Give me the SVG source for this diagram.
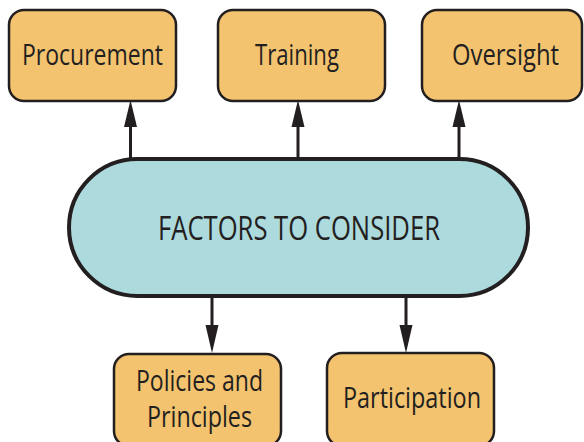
<svg xmlns="http://www.w3.org/2000/svg" width="584" height="442" viewBox="0 0 584 442">
  <defs>
    <style>
      .box { fill: #F3C36F; stroke: #231F20; stroke-width: 2.5; }
      .hub { fill: #ADDADD; stroke: #231F20; stroke-width: 4; }
      .label { font-family: "Open Sans", "Liberation Sans", sans-serif; fill: #231F20; text-anchor: middle; }
      .edge { stroke: #231F20; stroke-width: 3; fill: none; }
      .head { fill: #231F20; }
    </style>
  </defs>
  <rect width="584" height="442" fill="#FFFFFF"/>

  <!-- connectors -->
  <g id="connectors">
    <line class="edge" x1="130.5" y1="159" x2="130.5" y2="124"/>
    <polygon class="head" points="130.5,100 124,127 137,127"/>
    <line class="edge" x1="298" y1="159" x2="298" y2="124"/>
    <polygon class="head" points="298,100 291.5,127 304.5,127"/>
    <line class="edge" x1="459" y1="159" x2="459" y2="124"/>
    <polygon class="head" points="459,100 452.5,127 465.5,127"/>
    <line class="edge" x1="212" y1="296" x2="212" y2="328"/>
    <polygon class="head" points="212,353 205.5,325 218.5,325"/>
    <line class="edge" x1="406" y1="296" x2="406" y2="328"/>
    <polygon class="head" points="406,353 399.5,325 412.5,325"/>
  </g>

  <!-- central hub -->
  <g id="factors">
    <rect class="hub" x="69" y="159" width="459" height="137" rx="68.5" ry="68.5"/>
    <text class="label" x="299" y="239.5" font-size="33.5" textLength="282" lengthAdjust="spacingAndGlyphs">FACTORS TO CONSIDER</text>
  </g>

  <g id="procurement">
    <rect class="box" x="9" y="10" width="167" height="91" rx="15" ry="15"/>
    <text class="label" x="92.5" y="65" font-size="28.5" textLength="141" lengthAdjust="spacingAndGlyphs">Procurement</text>
  </g>

  <g id="training">
    <rect class="box" x="218" y="10" width="167" height="91" rx="15" ry="15"/>
    <text class="label" x="297" y="65" font-size="28.5" textLength="84" lengthAdjust="spacingAndGlyphs">Training</text>
  </g>

  <g id="oversight">
    <rect class="box" x="422" y="10" width="160" height="91" rx="15" ry="15"/>
    <text class="label" x="505.5" y="65" font-size="28.5" textLength="107" lengthAdjust="spacingAndGlyphs">Oversight</text>
  </g>

  <g id="policies">
    <rect class="box" x="114" y="354" width="167" height="92" rx="15" ry="15"/>
    <text class="label" x="199.5" y="391" font-size="28.5" textLength="127" lengthAdjust="spacingAndGlyphs">Policies and</text>
    <text class="label" x="199.5" y="427" font-size="28.5" textLength="105" lengthAdjust="spacingAndGlyphs">Principles</text>
  </g>

  <g id="participation">
    <rect class="box" x="327" y="353" width="167" height="93" rx="15" ry="15"/>
    <text class="label" x="412" y="408" font-size="28.5" textLength="138" lengthAdjust="spacingAndGlyphs">Participation</text>
  </g>
</svg>
